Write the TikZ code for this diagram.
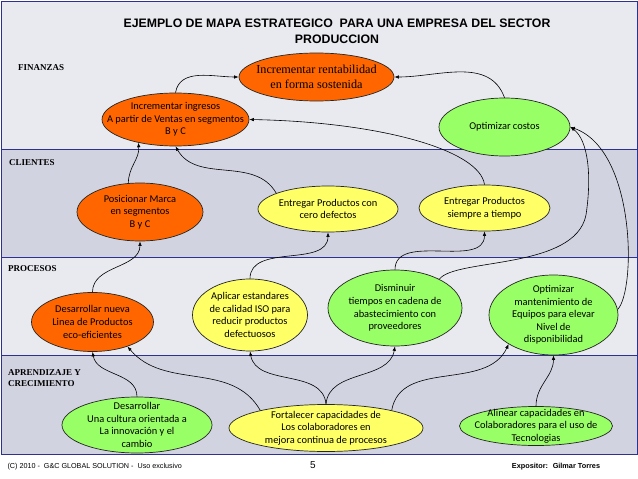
\documentclass[tikz,border=0pt]{standalone}
\usepackage{fontspec}
\usepackage{tikz}
\usetikzlibrary{shapes.geometric,arrows.meta}
\newfontfamily\calibri{Carlito}
\newfontfamily\romana{Liberation Serif}
\newfontfamily\arial{Liberation Sans}
\definecolor{naranja}{RGB}{255,102,0}
\definecolor{amarillo}{RGB}{255,255,102}
\definecolor{verde}{RGB}{153,255,102}
\definecolor{fondoclaro}{RGB}{233,234,240}
\definecolor{fondooscuro}{RGB}{210,211,225}
\definecolor{azul}{RGB}{46,49,146}

\begin{document}
\begin{tikzpicture}[x=1pt,y=-1pt,
    objetivo/.style={ellipse,draw=black!85,line width=0.7pt,inner sep=0pt},
    texto/.style={align=center,inner sep=0pt,font=\calibri\fontsize{10.4}{12.6}\selectfont},
    flecha/.style={-{Latex[length=4.5pt,width=3.5pt]},line width=0.6pt},
    etiqueta/.style={anchor=west,align=left,inner sep=0pt,font=\romana\bfseries\fontsize{9}{11}\selectfont}]
\useasboundingbox (0,0) rectangle (638,479);
\fill[white] (0,0) rectangle (638,479);
\fill[fondoclaro] (1,1) rectangle (637,149);
\fill[fondooscuro] (1,149) rectangle (637,257);
\fill[fondoclaro] (1,257) rectangle (637,355);
\fill[fondooscuro] (1,355) rectangle (637,454);
\draw[azul,line width=0.8pt] (1,1) rectangle (637,454);
\foreach \y in {149,257,355}
    \draw[azul,line width=0.8pt] (1,\y) -- (637,\y);

\node[align=center,font=\arial\bfseries\fontsize{12.3}{16}\selectfont] (titulo) at (337,31)
    {EJEMPLO DE MAPA ESTRATEGICO\ \ PARA UNA EMPRESA DEL SECTOR\\PRODUCCION};

\node[etiqueta] (finanzas) at (18,68) {FINANZAS};
\node[etiqueta] (clientes) at (9,163) {CLIENTES};
\node[etiqueta] (procesos) at (8,269) {PROCESOS};
\node[etiqueta] (aprendizaje) at (8,378) {APRENDIZAJE Y\\CRECIMIENTO};

\node[objetivo,fill=naranja,minimum width=155,minimum height=48] (rentabilidad) at (316.5,77) {};
\node[align=center,inner sep=0pt,font=\romana\fontsize{12.2}{15}\selectfont] (t-rentabilidad) at (rentabilidad)
    {Incrementar rentabilidad\\en forma sostenida};
\node[objetivo,fill=naranja,minimum width=147,minimum height=53] (ingresos) at (175.5,119.5) {};
\node[texto] (t-ingresos) at (ingresos) {Incrementar ingresos\\A partir de Ventas en segmentos\\B y C};
\node[objetivo,fill=verde,minimum width=131,minimum height=58] (costos) at (504.5,127) {};
\node[texto] (t-costos) at (costos) {Optimizar costos};

\node[objetivo,fill=naranja,minimum width=126,minimum height=58] (posicionar) at (140,212) {};
\node[texto] (t-posicionar) at (posicionar) {Posicionar Marca\\en segmentos\\B y C};
\node[objetivo,fill=amarillo,minimum width=140,minimum height=46] (cero) at (328,209) {};
\node[texto] (t-cero) at (cero) {Entregar Productos con\\cero defectos};
\node[objetivo,fill=amarillo,minimum width=131,minimum height=46] (tiempo) at (484.5,208) {};
\node[texto] (t-tiempo) at (tiempo) {Entregar Productos\\siempre a tiempo};

\node[objetivo,fill=naranja,minimum width=122,minimum height=59] (nueva) at (92.5,322) {};
\node[texto] (t-nueva) at (nueva) {Desarrollar nueva\\Linea de Productos\\eco-eficientes};
\node[objetivo,fill=amarillo,minimum width=115,minimum height=72] (aplicar) at (250,315) {};
\node[texto] (t-aplicar) at (aplicar) {Aplicar estandares\\de calidad ISO para\\reducir productos\\defectuosos};
\node[objetivo,fill=verde,minimum width=134,minimum height=76] (disminuir) at (395,308) {};
\node[texto] (t-disminuir) at (disminuir) {Disminuir\\tiempos en cadena de\\abastecimiento con\\proveedores};
\node[objetivo,fill=verde,minimum width=129,minimum height=80] (mantenimiento) at (553.5,315) {};
\node[texto] (t-mantenimiento) at (mantenimiento) {Optimizar\\mantenimiento de\\Equipos para elevar\\Nivel de\\disponibilidad};

\node[objetivo,fill=verde,minimum width=150,minimum height=56] (cultura) at (137,425) {};
\node[texto] (t-cultura) at (cultura) {Desarrollar\\Una cultura orientada a\\La innovación y el\\cambio};
\node[objetivo,fill=amarillo,minimum width=194,minimum height=47] (fortalecer) at (326,428) {};
\node[texto] (t-fortalecer) at (fortalecer) {Fortalecer capacidades de\\Los colaboradores en\\mejora continua de procesos};
\node[objetivo,fill=verde,minimum width=153,minimum height=39] (alinear) at (536,426) {};
\node[texto] (t-alinear) at (alinear) {Alinear capacidades en\\Colaboradores para el uso de\\Tecnologias};

\draw[flecha] (ingresos.north) to[out=80,in=180] (rentabilidad.west);
\draw[flecha] (costos.north) to[out=110,in=0] (rentabilidad.east);
\draw[flecha] (posicionar.112) to[out=90,in=-85] (ingresos.212);
\draw[flecha] (cero.163) to[out=120,in=-60] (ingresos.south);
\draw[flecha] (tiempo.north) .. controls (480,150) and (380,122) .. (ingresos.east);
\draw[flecha] (disminuir.33) .. controls (455,258) and (575,270) .. (586,215)
    .. controls (592,175) and (588,140) .. (costos.east);
\draw[flecha] (mantenimiento.5) .. controls (636,290) and (636,150) .. (costos.east);
\draw[flecha] (nueva.north) to[out=90,in=-90] (posicionar.south);
\draw[flecha] (aplicar.north) to[out=90,in=-90] (cero.south);
\draw[flecha] (disminuir.north) to[out=90,in=-90] (tiempo.south);
\draw[flecha] (cultura.north) to[out=90,in=-80] (nueva.south);
\draw[flecha] (fortalecer.165) to[out=120,in=-50] (nueva.-35);
\draw[flecha] (fortalecer.north) to[out=95,in=-80] (aplicar.south);
\draw[flecha] (fortalecer.north) to[out=85,in=-100] (disminuir.south);
\draw[flecha] (fortalecer.15) to[out=80,in=-115] (mantenimiento.213);
\draw[flecha] (alinear.north) to[out=90,in=-90] (mantenimiento.south);

\node[anchor=west,font=\arial\fontsize{7.2}{8}\selectfont] (pie) at (4,467)
    {(C) 2010 - \ G\&C GLOBAL SOLUTION - \ Uso exclusivo};
\node[font=\arial\fontsize{10}{11}\selectfont] (pagina) at (313,465) {5};
\node[font=\arial\bfseries\fontsize{7.3}{8}\selectfont] (expositor) at (556,467) {Expositor: \ Gilmar Torres};
\end{tikzpicture}
\end{document}
